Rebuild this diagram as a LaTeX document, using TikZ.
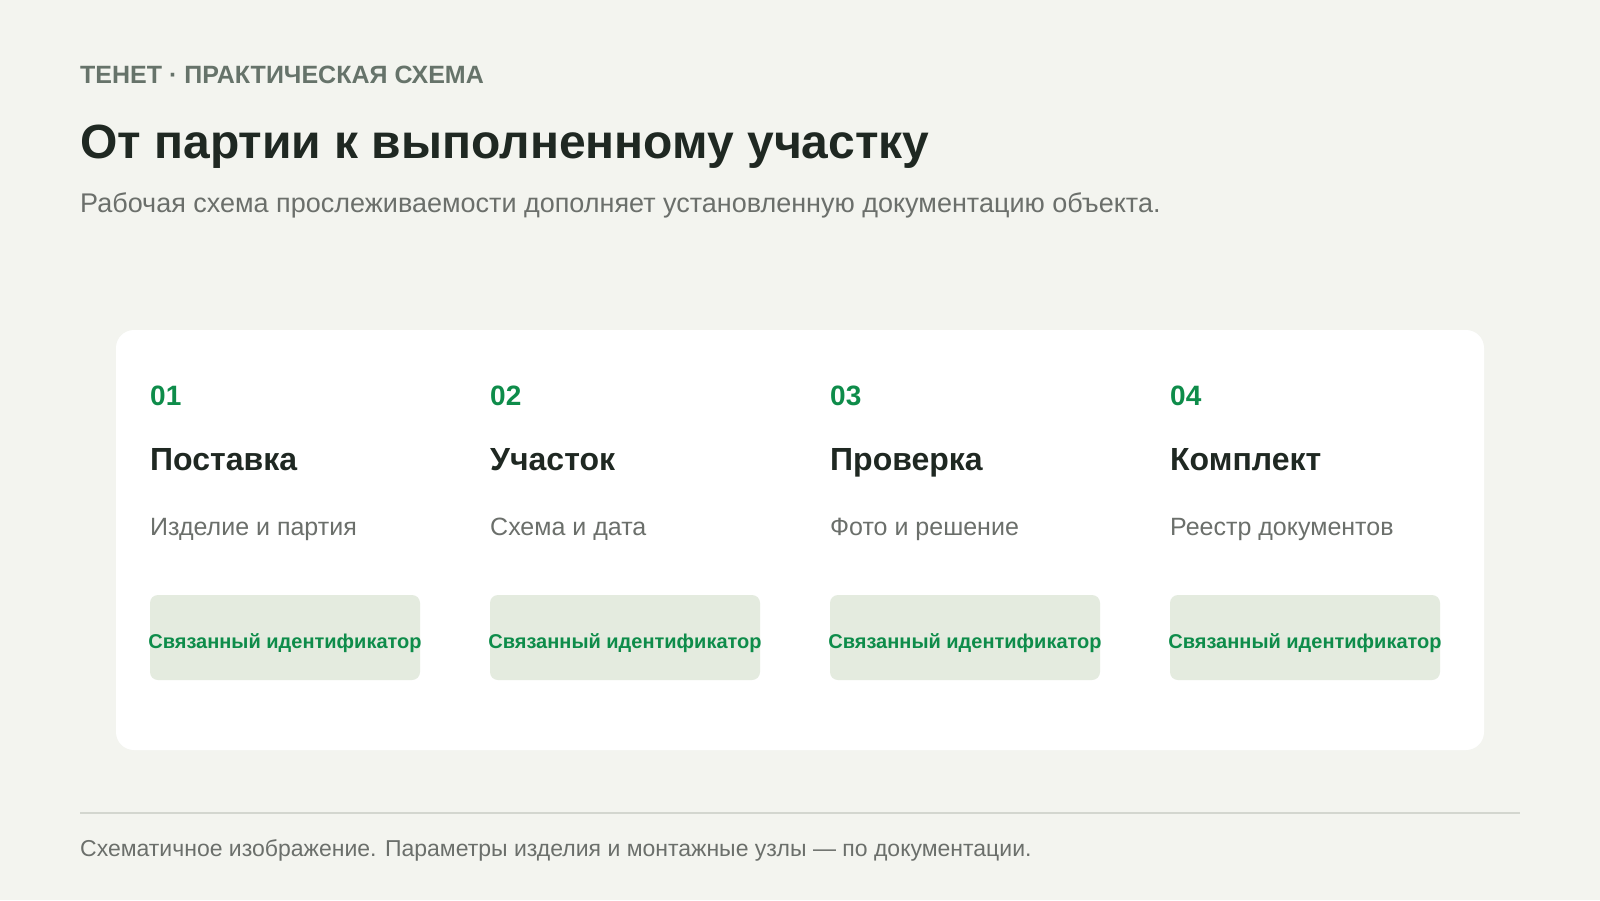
\documentclass[tikz,border=0pt]{standalone}
\usepackage{fontspec}
\setmainfont{Liberation Sans}
\definecolor{bgcol}{HTML}{F3F4EF}
\definecolor{inkcol}{HTML}{1F2822}
\definecolor{greycol}{HTML}{6B6F6B}
\definecolor{tagcol}{HTML}{66736A}
\definecolor{greencol}{HTML}{0E8C4A}
\definecolor{chipcol}{HTML}{E4EBDF}
\definecolor{rulecol}{HTML}{D3D6CF}
\begin{document}
\begin{tikzpicture}
	  [x=1pt,y=-1pt,every node/.style={inner sep=0pt,anchor=base west},
	   stepnum/.style={font=\fontsize{28}{32}\selectfont\bfseries,text=greencol},
	   stephead/.style={font=\fontsize{32}{36}\selectfont\bfseries,text=inkcol},
	   stepsub/.style={font=\fontsize{25}{29}\selectfont,text=greycol},
	   chip/.style={fill=chipcol,rounded corners=8pt}]
	\fill[bgcol] (0,0) rectangle (1600,900);
	\useasboundingbox (0,0) rectangle (1600,900);

	\node[font=\fontsize{25}{29}\selectfont\bfseries,text=tagcol] (tag) at (80,83) {ТЕНЕТ · ПРАКТИЧЕСКАЯ СХЕМА};
	\node[font=\fontsize{48}{54}\selectfont\bfseries,text=inkcol] (title) at (80,158) {От партии к выполненному участку};
	\node[font=\fontsize{27}{31}\selectfont,text=greycol] (lead) at (80,212) {Рабочая схема прослеживаемости дополняет установленную документацию объекта.};

	\fill[white,rounded corners=18pt] (116,330) rectangle (1484,750);

	\foreach \i/\num/\head/\sub in {0/01/Поставка/Изделие и партия,1/02/Участок/Схема и дата,
	    2/03/Проверка/Фото и решение,3/04/Комплект/Реестр документов}
	  {
	  \node[stepnum] (num\i) at (150+340*\i,405) {\num};
	  \node[stephead] (head\i) at (150+340*\i,470) {\head};
	  \node[stepsub] (sub\i) at (150+340*\i,535) {\sub};
	  \fill[chip] (150+340*\i,595) rectangle (420+340*\i,680);
	  \node[anchor=base,font=\fontsize{20}{24}\selectfont\bfseries,text=greencol] (chip\i)
	    at (285+340*\i,648) {Связанный идентификатор};
	  }

	\coordinate (ruleL) at (80,813);
	\coordinate (ruleR) at (1520,813);
	\draw[rulecol,line width=2pt] (ruleL) -- (ruleR);
	\node[font=\fontsize{23}{27}\selectfont,text=greycol] (foot) at (80,856) {Схематичное изображение. Параметры изделия и монтажные узлы — по документации.};
\end{tikzpicture}
\end{document}
